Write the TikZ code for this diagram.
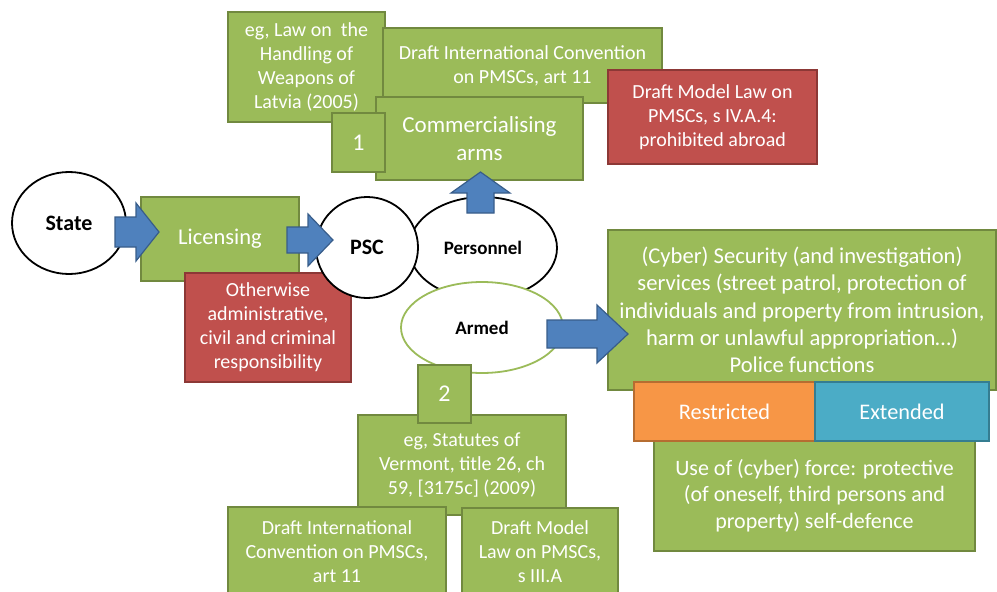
\documentclass[tikz,border=0pt]{standalone}
\usepackage{fontspec}
\setmainfont{Carlito}
\usetikzlibrary{shapes.geometric}
\definecolor{gfill}{HTML}{9BBB59}
\definecolor{gborder}{HTML}{71893F}
\definecolor{rfill}{HTML}{C0504D}
\definecolor{rborder}{HTML}{8C3836}
\definecolor{ofill}{HTML}{F79646}
\definecolor{oborder}{HTML}{B66D31}
\definecolor{tfill}{HTML}{4BACC6}
\definecolor{tborder}{HTML}{357D91}
\definecolor{bfill}{HTML}{4F81BD}
\definecolor{bborder}{HTML}{385D8A}
\tikzset{
  basebox/.style={rectangle, line width=1.6pt, text=white, align=center, inner sep=0pt},
  gbox/.style={basebox, draw=gborder, fill=gfill},
  rbox/.style={basebox, draw=rborder, fill=rfill},
  obox/.style={basebox, draw=oborder, fill=ofill},
  tbox/.style={basebox, draw=tborder, fill=tfill},
  blob/.style={ellipse, draw=black, fill=white, line width=1.8pt, inner sep=0pt, font=\bfseries},
  blockarrow/.style={fill=bfill, draw=bborder, line width=1.2pt, line join=miter},
  twenty/.style={font=\fontsize{20}{24}\selectfont},
}
\begin{document}
\begin{tikzpicture}[x=1pt, y=-1pt]
\useasboundingbox (0,0) rectangle (997,592);

% top cluster
\node[gbox, twenty, minimum width=157pt, minimum height=110pt] (latvia) at (306.5,67)
  {eg, Law on \ the\\ Handling of\\ Weapons of\\ Latvia (2005)};
\node[gbox, twenty, minimum width=279pt, minimum height=75pt] (draftintl) at (522.5,65.5)
  {Draft International Convention\\ on PMSCs, art 11};
\node[rbox, twenty, minimum width=209pt, minimum height=94pt] (draftmodel) at (712.5,117)
  {Draft Model Law on\\ PMSCs, s IV.A.4:\\ prohibited abroad};
\node[gbox, font=\fontsize{23}{28}\selectfont, minimum width=207pt, minimum height=83pt] (comm) at (479.5,138.5)
  {Commercialising\\ arms};
\node[gbox, font=\fontsize{24}{28}\selectfont, minimum width=53pt, minimum height=59pt] (one) at (358.5,142.5) {1};

% left chain
\node[blob, font=\fontsize{22}{26}\selectfont\bfseries, minimum width=114pt, minimum height=102pt] (state) at (69,223) {State};
\node[gbox, font=\fontsize{22.5}{27}\selectfont, minimum width=158pt, minimum height=84pt] (licensing) at (220,239) {Licensing};
\node[rbox, twenty, minimum width=166pt, minimum height=109pt] (otherwise) at (268,327.5)
  {Otherwise\\ administrative,\\ civil and criminal\\ responsibility};
\path[blockarrow] (115,217) -- (136,217) -- (136,203) -- (159,232) -- (136,261) -- (136,247) -- (115,247) -- cycle;

\node[blob, font=\fontsize{19}{23}\selectfont\bfseries, minimum width=148pt, minimum height=102pt] (personnel) at (483,248) {Personnel};
\node[blob, font=\fontsize{22}{26}\selectfont\bfseries, minimum width=102pt, minimum height=101pt] (psc) at (367,247.5) {PSC};
\path[blockarrow] (287,227) -- (308,227) -- (308,214) -- (333,240) -- (308,266) -- (308,253) -- (287,253) -- cycle;
\node[blob, draw=gfill, font=\fontsize{19}{23}\selectfont\bfseries, minimum width=162pt, minimum height=91pt] (armed) at (482,327.5) {Armed};
\path[blockarrow] (467,213) -- (467,193) -- (451,193) -- (480.5,172) -- (510,193) -- (494,193) -- (494,213) -- cycle;

% right cluster
\node[gbox, font=\fontsize{22.6}{27.3}\selectfont, minimum width=388pt, minimum height=160pt] (cyber) at (802,310)
  {(Cyber) Security (and investigation)\\ services (street patrol, protection of\\ individuals and property from intrusion,\\ harm or unlawful appropriation…)\\ Police functions};
\path[blockarrow] (547,320) -- (597,320) -- (597,305) -- (628,334) -- (597,363) -- (597,348) -- (547,348) -- cycle;
\node[gbox, font=\fontsize{22}{26.5}\selectfont, minimum width=321pt, minimum height=111pt] (force) at (814.5,495.5)
  {Use of (cyber) force: protective\\ (of oneself, third persons and\\ property) self-defence};
\node[obox, font=\fontsize{22.3}{27}\selectfont, minimum width=181pt, minimum height=59pt] (restricted) at (724.5,411.5) {Restricted};
\node[tbox, font=\fontsize{22.3}{27}\selectfont, minimum width=174pt, minimum height=59pt] (extended) at (902,411.5) {Extended};

% bottom cluster
\node[gbox, twenty, minimum width=208pt, minimum height=100pt] (statutes) at (462,465)
  {eg, Statutes of\\ Vermont, title 26, ch\\ 59, [3175c] (2009)};
\node[gbox, font=\fontsize{24}{28}\selectfont, minimum width=53pt, minimum height=58pt] (two) at (444.5,394) {2};
\node[gbox, twenty, minimum width=218pt, minimum height=89pt] (botleft) at (337,551.5)
  {Draft International\\ Convention on PMSCs,\\ art 11};
\node[gbox, twenty, minimum width=156pt, minimum height=88pt] (botright) at (540,552)
  {Draft Model\\ Law on PMSCs,\\ s III.A};
\end{tikzpicture}
\end{document}
